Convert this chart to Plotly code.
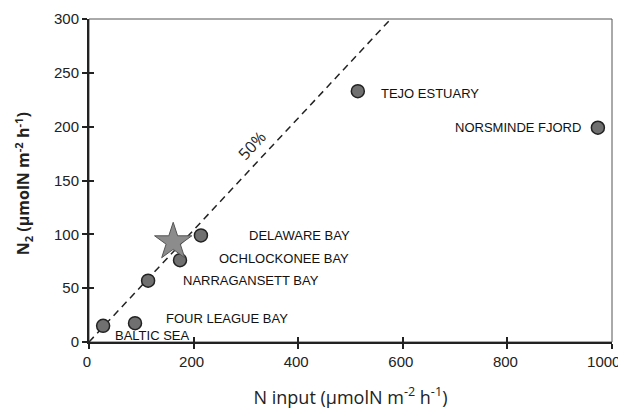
import plotly.graph_objects as go

sites = ["BALTIC SEA", "FOUR LEAGUE BAY", "NARRAGANSETT BAY", "OCHLOCKONEE BAY",
         "DELAWARE BAY", "TEJO ESTUARY", "NORSMINDE FJORD"]
n_input = [27, 88, 113, 174, 214, 514, 973]
n2 = [15, 17.5, 57, 76, 99, 233, 199]

# label anchor positions (data coords)
label_x = [46, 143, 176, 245, 302, 554, 944]
label_y = [6, 22, 57, 78, 99, 231, 199]
label_anchor = ["left", "left", "left", "left", "left", "left", "right"]

star_x = [161]
star_y = [93]

line_x = [0, 577]
line_y = [0, 300]
line_label = "50%"

x_ticks = [0, 200, 400, 600, 800, 1000]
x_tick_labels = ["0", "200", "400", "600", "800", "1000&nbsp;&nbsp;&nbsp;"]
y_ticks = [0, 50, 100, 150, 200, 250, 300]

fig = go.Figure()
fig.add_trace(go.Scatter(x=line_x, y=line_y, mode="lines",
                         line=dict(color="#222", width=1.5, dash="7px,5px"),
                         hoverinfo="skip", showlegend=False))
fig.add_trace(go.Scatter(x=n_input, y=n2, mode="markers",
                         marker=dict(size=13, color="#707070",
                                     line=dict(color="#222", width=1.5)),
                         showlegend=False))
fig.add_trace(go.Scatter(x=star_x, y=star_y, mode="markers",
                         marker=dict(symbol="star", size=28, color="#8c8c8c",
                                     line=dict(color="#555", width=1)),
                         showlegend=False))
# invisible trace so the overlay (inside-tick) axes are drawn
fig.add_trace(go.Scatter(x=n_input, y=n2, mode="markers", xaxis="x2", yaxis="y2",
                         marker=dict(opacity=0), hoverinfo="skip", showlegend=False))

lab_font = dict(family="Liberation Sans Narrow, Arial Narrow, Liberation Sans, sans-serif",
                size=13, color="#111")
for name, lx, ly, anc in zip(sites, label_x, label_y, label_anchor):
    fig.add_annotation(x=lx, y=ly, text=name, showarrow=False, xanchor=anc,
                       yanchor="middle", font=lab_font)

fig.add_annotation(x=312, y=183, text=line_label, showarrow=False, textangle=-47,
                   font=dict(family="Open Sans, sans-serif", size=16, color="#222"))

# y-axis title as a rotated annotation near the figure's left edge
fig.add_annotation(xref="paper", yref="paper", x=-0.1530, y=0.49, xanchor="left",
                   yanchor="middle", textangle=-90, showarrow=False,
                   text="<b>N<sub>2</sub> (µmolN m<sup>-2</sup> h<sup>-1</sup>)</b>",
                   font=dict(family="Open Sans, sans-serif", size=16, color="#222"))

# light frame (top/right)
fig.add_shape(type="rect", xref="x domain", yref="y domain", x0=0, x1=1, y0=0, y1=1,
              line=dict(color="#555", width=1), layer="below")

tick_font = dict(family="Liberation Sans, Arial, sans-serif", size=15, color="#222")
fig.update_layout(
    xaxis=dict(range=[0, 1000], tickvals=x_ticks, ticktext=x_tick_labels,
               ticks="outside", ticklen=5,
               tickwidth=1.5, tickcolor="#222", showline=True, linecolor="#222",
               linewidth=2, showgrid=False, zeroline=False, tickfont=tick_font,
               automargin=False, ticklabelshift=-2, ticklabeloverflow="allow",
               title=dict(text="N input (µmolN m<sup>-2</sup> h<sup>-1</sup>)",
                          font=dict(family="Open Sans, sans-serif", size=18, color="#222"),
                          standoff=22)),
    yaxis=dict(range=[0, 300], tickvals=y_ticks, ticks="outside", ticklen=5,
               tickwidth=1.5, tickcolor="#222", showline=True, linecolor="#222",
               linewidth=2, showgrid=False, zeroline=False, tickfont=tick_font,
               automargin=False),
    xaxis2=dict(range=[0, 1000], tickvals=x_ticks, ticks="inside", ticklen=5,
                tickwidth=1.5, tickcolor="#222", showticklabels=False, showline=False,
                showgrid=False, zeroline=False, overlaying="x", anchor="y2",
                side="bottom", automargin=False),
    yaxis2=dict(range=[0, 300], tickvals=y_ticks, ticks="inside", ticklen=5,
                tickwidth=1.5, tickcolor="#222", showticklabels=False, showline=False,
                showgrid=False, zeroline=False, overlaying="y", anchor="x2",
                side="left", automargin=False),
    width=626, height=412, margin=dict(l=81, r=22, t=11, b=78),
    paper_bgcolor="white", plot_bgcolor="white")
fig.write_html("out.html")
